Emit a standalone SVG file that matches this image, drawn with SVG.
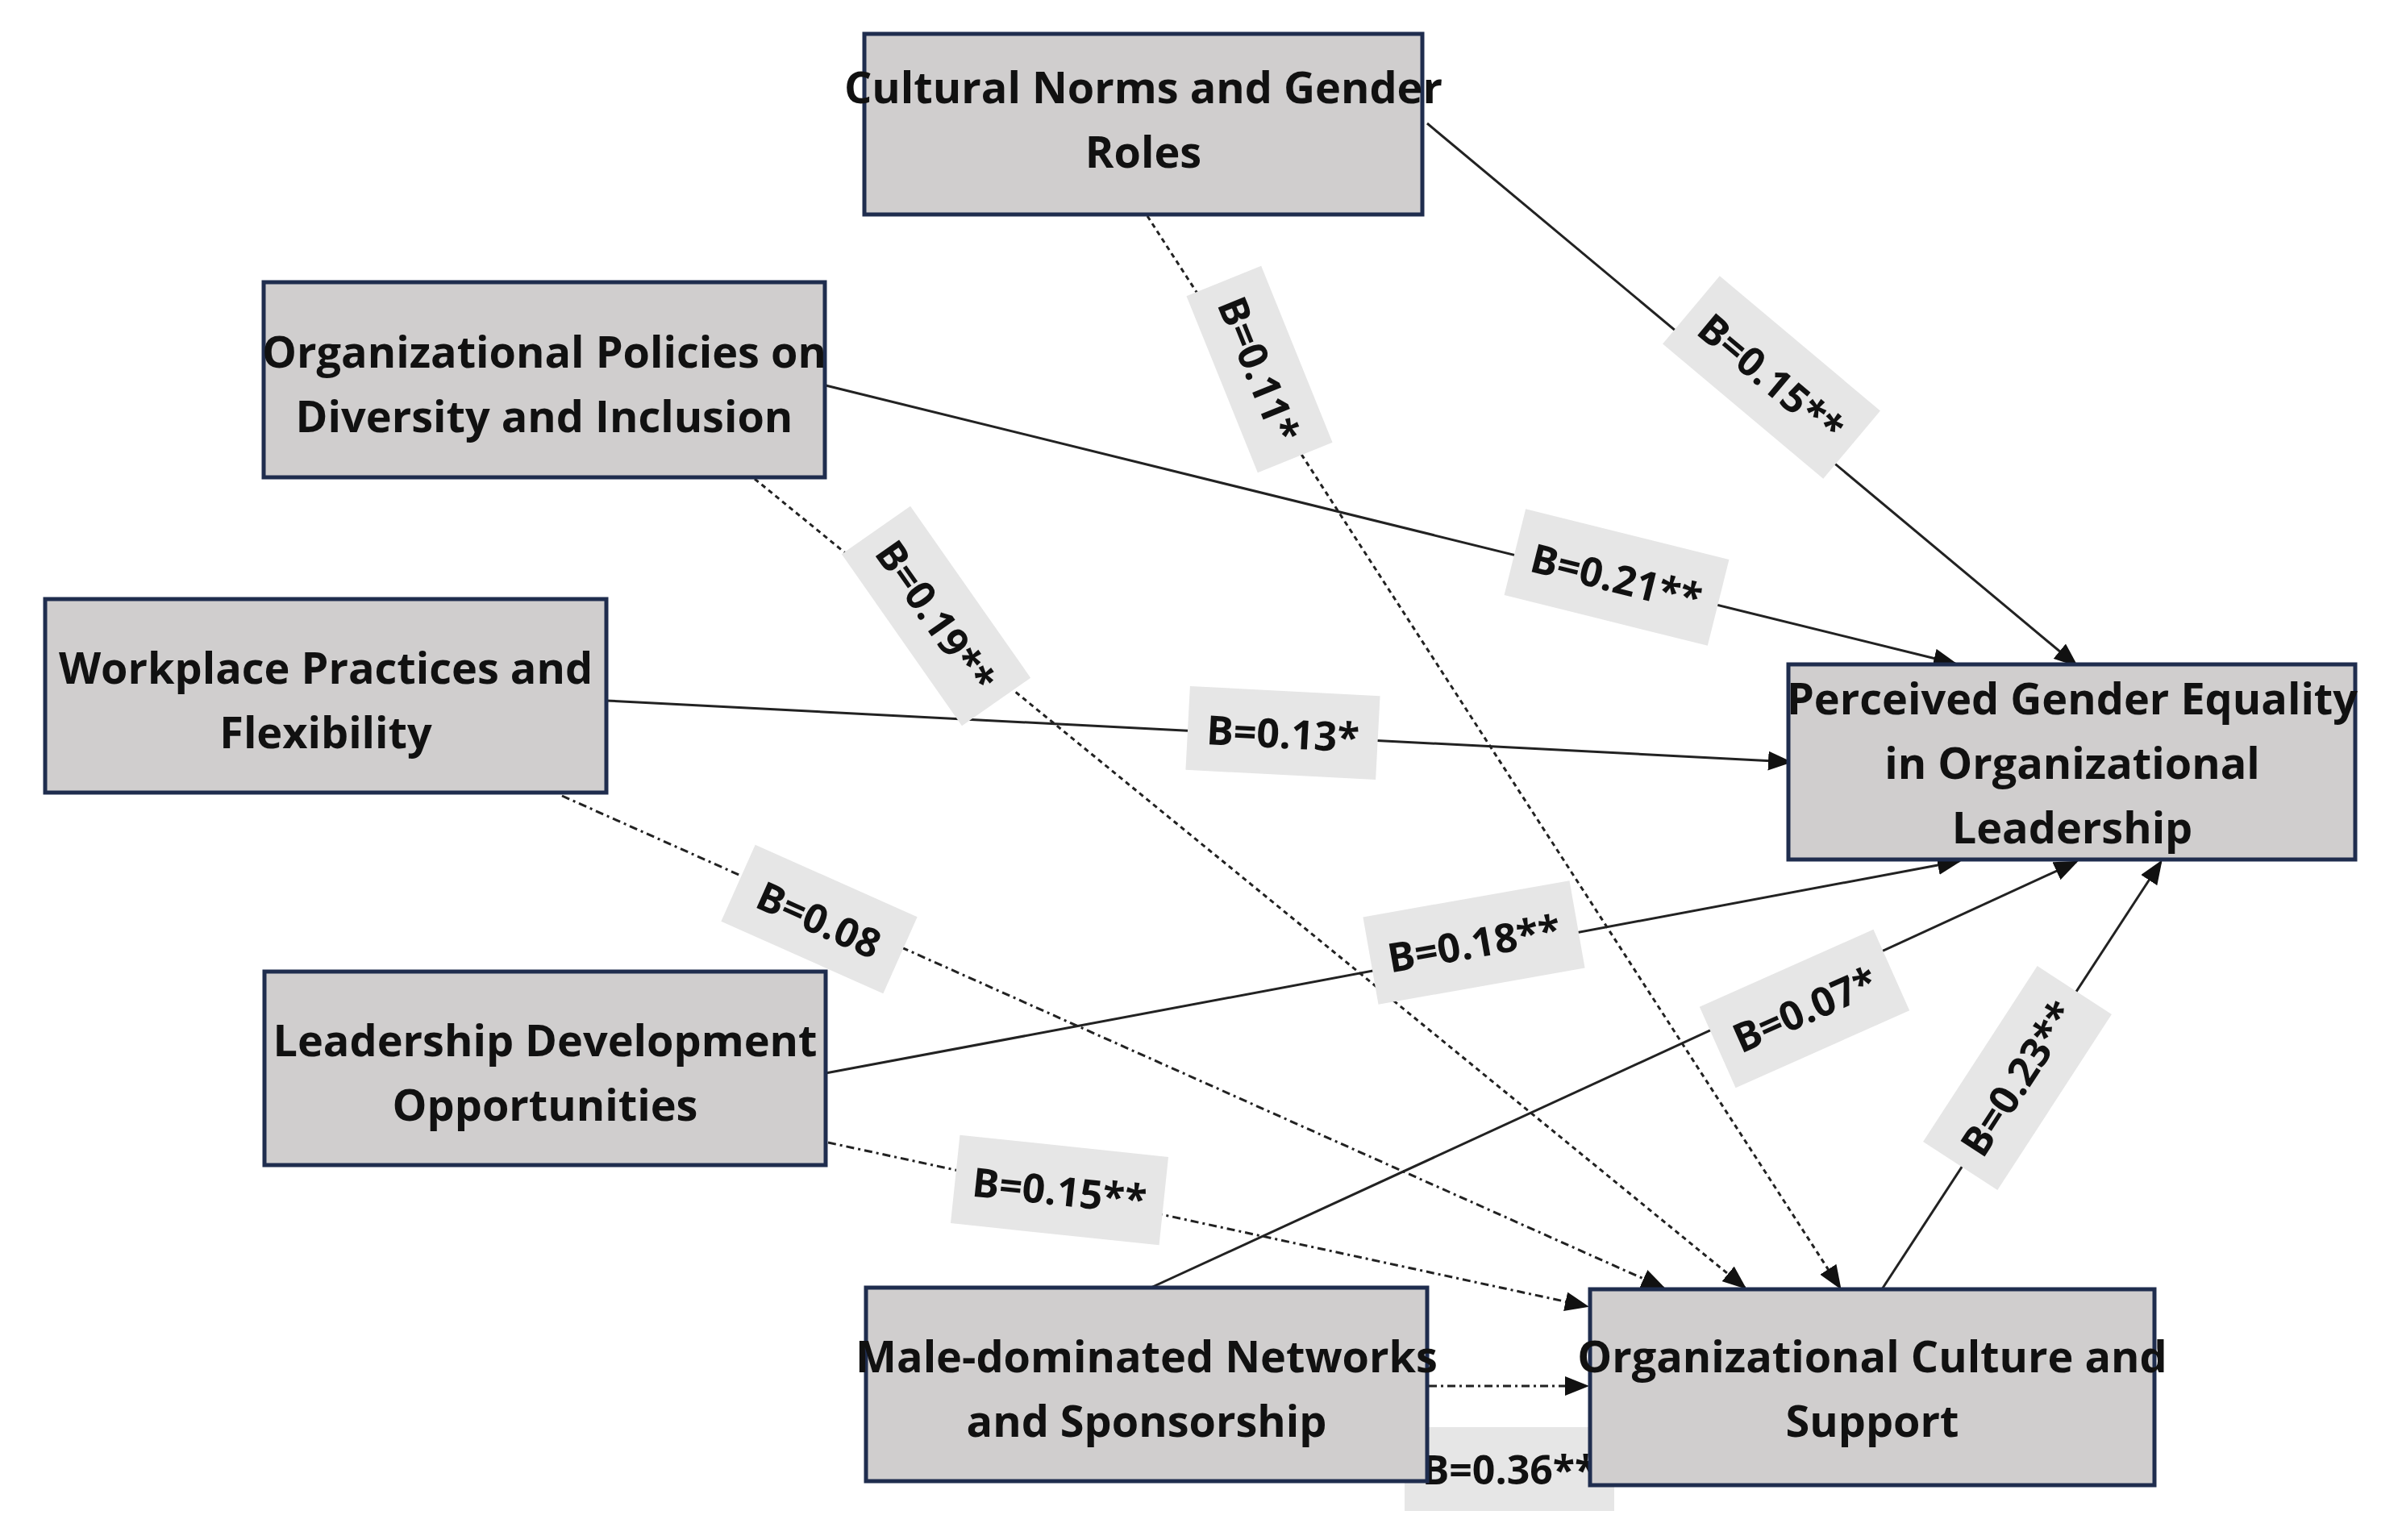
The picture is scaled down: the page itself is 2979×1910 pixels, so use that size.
<svg xmlns="http://www.w3.org/2000/svg" width="2979" height="1910" viewBox="0 0 2979 1910">
<style>
.box{fill:#d0cece;stroke:#1f2d4e;stroke-width:5}
.nt{font-family:"Open Sans","Liberation Sans",sans-serif;font-weight:bold;font-size:54px;fill:#111;text-anchor:middle}
.c{stroke:#222;stroke-width:3;fill:none;marker-end:url(#ah)}
.d1{stroke-dasharray:6 5}
.d2{stroke-dasharray:10 5 3 5}
.lb{fill:#e6e6e6}
.lt{font-family:"Open Sans","Liberation Sans",sans-serif;font-weight:bold;font-size:50px;fill:#111;text-anchor:middle;dominant-baseline:central}
</style>
<defs>
<marker id="ah" markerWidth="10" markerHeight="8" refX="9" refY="4" orient="auto" markerUnits="strokeWidth"><path d="M0,0 L10,4 L0,8 z" fill="#111"/></marker>
</defs>
<rect width="2979" height="1910" fill="#fff"/>
<g id="connectors">
<line class="c" x1="1770" y1="153" x2="2575" y2="825"/>
<line class="c" x1="1024" y1="478" x2="2425" y2="823"/>
<line class="c" x1="752" y1="869" x2="2220" y2="945"/>
<line class="c" x1="1024" y1="1331" x2="2430" y2="1068"/>
<line class="c" x1="1423" y1="1599" x2="2575" y2="1069"/>
<line class="c" x1="2334" y1="1599" x2="2680" y2="1069"/>
<line class="c d1" x1="1423" y1="268" x2="2282" y2="1597"/>
<line class="c d1" x1="936" y1="594" x2="2164" y2="1597"/>
<line class="c d2" x1="697" y1="987" x2="2063" y2="1597"/>
<line class="c d2" x1="1027" y1="1417" x2="1968" y2="1620"/>
<line class="c d2" x1="1772" y1="1719" x2="1968" y2="1719"/>
</g>
<g id="labels">
<g transform="translate(2197,468) rotate(40)"><rect class="lb" x="-130" y="-55" width="260" height="110"/><text class="lt">B=0.15**</text></g>
<g transform="translate(2005,716) rotate(14)"><rect class="lb" x="-130" y="-55" width="260" height="110"/><text class="lt">B=0.21**</text></g>
<g transform="translate(1591,909) rotate(3)"><rect class="lb" x="-118" y="-52" width="236" height="104"/><text class="lt">B=0.13*</text></g>
<g transform="translate(1828,1169) rotate(-10)"><rect class="lb" x="-130" y="-55" width="260" height="110"/><text class="lt">B=0.18**</text></g>
<g transform="translate(2238,1251) rotate(-24)"><rect class="lb" x="-118" y="-55" width="236" height="110"/><text class="lt">B=0.07*</text></g>
<g transform="translate(2502,1337) rotate(-57)"><rect class="lb" x="-130" y="-55" width="260" height="110"/><text class="lt">B=0.23**</text></g>
<g transform="translate(1562,458) rotate(68)"><rect class="lb" x="-118" y="-50" width="236" height="100"/><text class="lt">B=0.11*</text></g>
<g transform="translate(1161,764) rotate(55)"><rect class="lb" x="-130" y="-52" width="260" height="104"/><text class="lt">B=0.19**</text></g>
<g transform="translate(1016,1140) rotate(24)"><rect class="lb" x="-110" y="-52" width="220" height="104"/><text class="lt">B=0.08</text></g>
<g transform="translate(1314,1476) rotate(6)"><rect class="lb" x="-130" y="-55" width="260" height="110"/><text class="lt">B=0.15**</text></g>
<g transform="translate(1872,1822)"><rect class="lb" x="-130" y="-52" width="260" height="104"/><text class="lt">B=0.36**</text></g>
</g>
<g id="cultural"><rect class="box" x="1072" y="42" width="692" height="224"/>
<text class="nt" x="1418" y="128">Cultural Norms and Gender</text><text class="nt" x="1418" y="208">Roles</text></g>
<g id="policies"><rect class="box" x="327" y="350" width="696" height="242"/>
<text class="nt" x="675" y="456">Organizational Policies on</text><text class="nt" x="675" y="536">Diversity and Inclusion</text></g>
<g id="workplace"><rect class="box" x="56" y="743" width="696" height="240"/>
<text class="nt" x="404" y="848">Workplace Practices and</text><text class="nt" x="404" y="928">Flexibility</text></g>
<g id="leadership"><rect class="box" x="328" y="1205" width="696" height="240"/>
<text class="nt" x="676" y="1310">Leadership Development</text><text class="nt" x="676" y="1390">Opportunities</text></g>
<g id="male"><rect class="box" x="1074" y="1597" width="696" height="240"/>
<text class="nt" x="1422" y="1702">Male-dominated Networks</text><text class="nt" x="1422" y="1782">and Sponsorship</text></g>
<g id="culture"><rect class="box" x="1972" y="1599" width="700" height="243"/>
<text class="nt" x="2322" y="1702">Organizational Culture and</text><text class="nt" x="2322" y="1782">Support</text></g>
<g id="perceived"><rect class="box" x="2218" y="824" width="703" height="242"/>
<text class="nt" x="2570" y="886">Perceived Gender Equality</text><text class="nt" x="2570" y="966">in Organizational</text><text class="nt" x="2570" y="1046">Leadership</text></g>
</svg>
